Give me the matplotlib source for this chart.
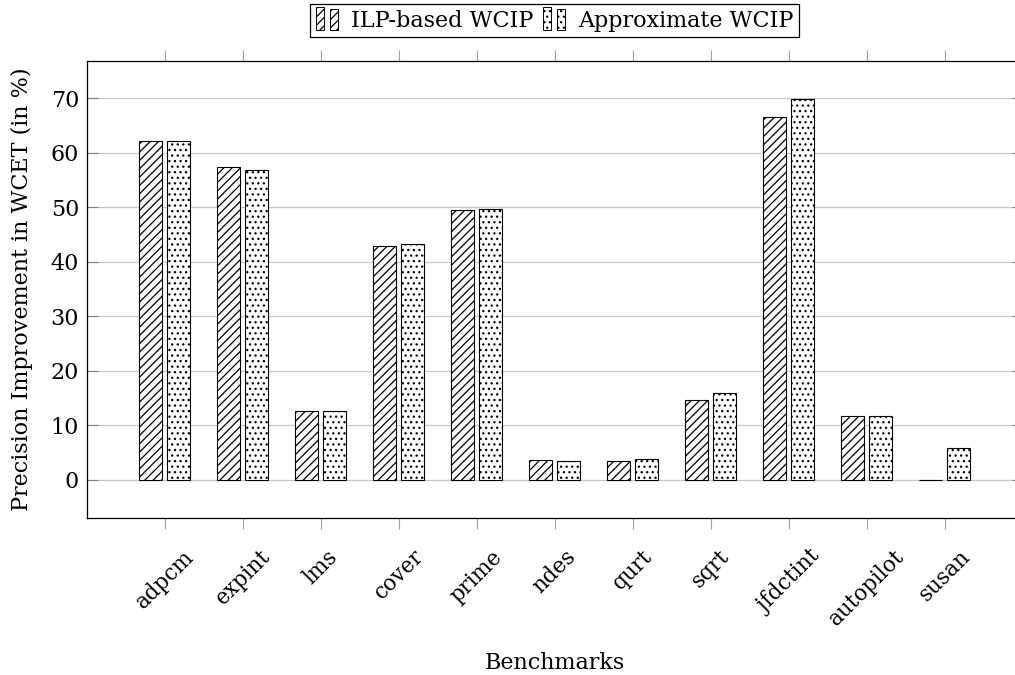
import numpy as np
from matplotlib import pyplot as plt
from matplotlib.legend_handler import HandlerBase
from matplotlib.patches import Rectangle

# ===== DATA =====
benchmarks = ["adpcm", "expint", "lms", "cover", "prime", "ndes", "qurt",
              "sqrt", "jfdctint", "autopilot", "susan"]
ilp_wcip = [62.1, 57.3, 12.7, 42.9, 49.5, 3.6, 3.4, 14.7, 66.6, 11.8, 0.0]
approx_wcip = [62.2, 56.8, 12.7, 43.2, 49.6, 3.4, 3.8, 15.9, 69.8, 11.7, 5.9]
yticks = [0, 10, 20, 30, 40, 50, 60, 70]

FS = 16
plt.rcParams['font.family'] = ['DejaVu Serif']
plt.rcParams['hatch.linewidth'] = 0.9
plt.rcParams['hatch.color'] = 'black'


# pgfplots style legend image: two little bars
class PairHandler(HandlerBase):
    def create_artists(self, legend, orig, xd, yd, width, height, fontsize, trans):
        hatch = orig.patches[0].get_hatch()
        bw = width * 0.36
        out = []
        for x0, h in [(0, 1.45), (width - bw, 1.3)]:
            r = Rectangle((x0 - xd, -yd - 0.2 * height), bw, height * h,
                          facecolor="white", edgecolor="black", linewidth=0.7,
                          hatch=hatch, transform=trans)
            out.append(r)
        return out


fig = plt.figure(figsize=(10.15, 6.75), dpi=100)
ax = fig.add_axes([0.0854, 0.2326, 0.9222, 0.677])

x = np.arange(len(benchmarks))
b1 = ax.bar(x - 0.18, ilp_wcip, 0.29, facecolor="white", edgecolor="black",
            linewidth=0.8, hatch="////", label="ILP-based WCIP", zorder=3)
b2 = ax.bar(x + 0.18, approx_wcip, 0.29, facecolor="white", edgecolor="black",
            linewidth=0.8, hatch="...", label="Approximate WCIP", zorder=3)

ax.set_xlim(-1, len(benchmarks))
ax.set_ylim(-6.98, 76.8)
ax.set_yticks(yticks)
ax.set_xticks(x)
ax.set_xticklabels(benchmarks, rotation=45)

ax.grid(axis="y", color="#c8c8c8", linewidth=0.9, zorder=0)
ax.set_axisbelow(True)
for s in ax.spines.values():
    s.set_linewidth(0.9)

ax.tick_params(axis="x", direction="out", top=True, bottom=True, length=8,
               width=0.8, color="#a0a0a0", labelsize=FS - 0.5, pad=12)
ax.tick_params(axis="y", direction="in", left=True, right=True, length=8,
               width=0.8, color="#808080", labelsize=FS, pad=5.5)

ax.set_xlabel("Benchmarks", fontsize=FS)
ax.xaxis.set_label_coords(0.5, -0.293)
ax.set_ylabel("Precision Improvement in WCET (in %)", fontsize=FS)
ax.yaxis.set_label_coords(-0.0575, 0.5)

leg = fig.legend(handles=[b1, b2], loc="center", bbox_to_anchor=(0.5465, 0.9696),
                 ncol=2, fontsize=FS, frameon=True, fancybox=False,
                 edgecolor="black", framealpha=1, borderpad=0.25,
                 handlelength=1.0, handleheight=0.7, handletextpad=0.6,
                 columnspacing=0.4, borderaxespad=0,
                 handler_map={b1: PairHandler(), b2: PairHandler()})
leg.get_frame().set_linewidth(0.9)

plt.savefig("out.png", dpi=100)
